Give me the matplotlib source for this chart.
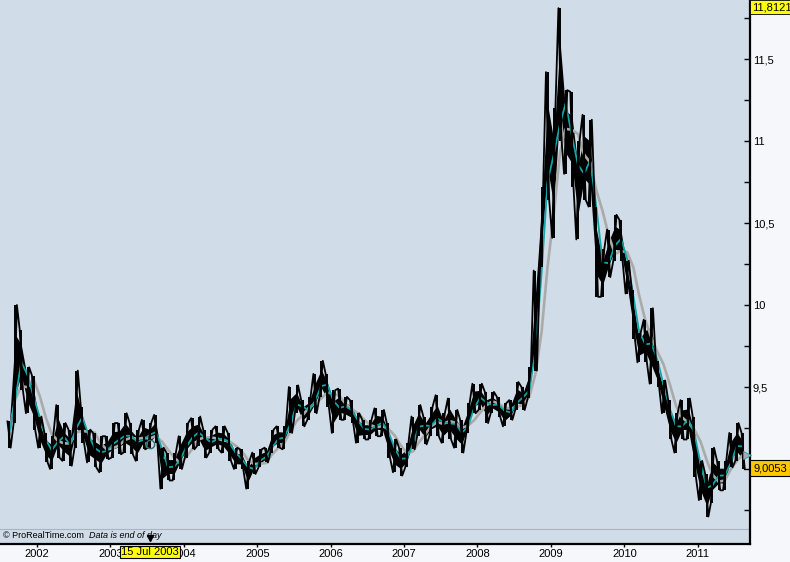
import matplotlib
matplotlib.use('Agg')
import matplotlib.pyplot as plt
import matplotlib.transforms as mtransforms
import pandas as pd

plt.rcParams['font.family'] = ['Liberation Sans', 'DejaVu Sans']

# Datos (máximos y mínimos mensuales, ago 2001 - ago 2011)
meses = pd.date_range('2001-08-01', periods=121, freq='MS') + pd.Timedelta(days=14)

maximos = [9.29, 10.00, 9.85, 9.62, 9.57, 9.32, 9.22, 9.20, 9.39, 9.28,
           9.24, 9.60, 9.38, 9.24, 9.22, 9.20, 9.20, 9.28, 9.28, 9.34,
           9.28, 9.24, 9.30, 9.28, 9.33, 9.13, 9.10, 9.10, 9.20, 9.28,
           9.31, 9.32, 9.24, 9.24, 9.26, 9.26, 9.22, 9.13, 9.12, 9.05,
           9.10, 9.12, 9.13, 9.24, 9.26, 9.26, 9.50, 9.51, 9.42, 9.44,
           9.58, 9.66, 9.58, 9.48, 9.49, 9.44, 9.42, 9.34, 9.30, 9.30,
           9.37, 9.36, 9.28, 9.18, 9.13, 9.16, 9.32, 9.39, 9.32, 9.38,
           9.45, 9.34, 9.43, 9.36, 9.30, 9.40, 9.52, 9.52, 9.47, 9.47,
           9.44, 9.40, 9.42, 9.53, 9.50, 9.62, 10.21, 10.72, 11.42, 11.20,
           11.81, 11.31, 11.30, 11.00, 11.16, 11.13, 10.60, 10.34, 10.46, 10.55,
           10.52, 10.27, 10.09, 9.83, 9.91, 9.98, 9.66, 9.54, 9.42, 9.34,
           9.42, 9.43, 9.32, 9.05, 8.97, 9.13, 9.05, 9.05, 9.22, 9.28,
           9.22]

minimos = [9.13, 9.28, 9.48, 9.34, 9.24, 9.13, 9.04, 9.00, 9.07, 9.05,
           9.02, 9.13, 9.16, 9.04, 9.01, 8.98, 9.06, 9.07, 9.09, 9.10,
           9.09, 9.05, 9.12, 9.13, 9.16, 8.88, 8.93, 8.93, 9.00, 9.07,
           9.12, 9.14, 9.07, 9.10, 9.12, 9.10, 9.05, 9.00, 9.00, 8.88,
           8.97, 9.01, 9.04, 9.10, 9.13, 9.12, 9.22, 9.34, 9.26, 9.30,
           9.34, 9.44, 9.38, 9.22, 9.30, 9.30, 9.28, 9.16, 9.18, 9.18,
           9.20, 9.20, 9.07, 8.98, 8.96, 9.01, 9.12, 9.20, 9.15, 9.20,
           9.20, 9.16, 9.18, 9.13, 9.10, 9.22, 9.34, 9.36, 9.28, 9.34,
           9.32, 9.26, 9.30, 9.36, 9.36, 9.43, 9.60, 10.23, 10.64, 10.41,
           11.00, 10.80, 10.72, 10.40, 10.64, 10.60, 10.05, 10.05, 10.17, 10.27,
           10.27, 10.07, 9.79, 9.65, 9.65, 9.52, 9.50, 9.34, 9.18, 9.10,
           9.18, 9.18, 8.95, 8.81, 8.71, 8.79, 8.87, 8.87, 9.01, 9.05,
           9.00]

ultimo_cierre = 9.0053
maximo_periodo = 11.8121
fecha_cursor = pd.Timestamp('2003-07-15')
valor_cursor = 9.15
anios = list(range(2002, 2012))
niveles = [9.0, 9.5, 10.0, 10.5, 11.0, 11.5]

serie = pd.DataFrame({'max': maximos, 'min': minimos}, index=meses)
rango = serie['max'] - serie['min']
medio = (serie['max'] + serie['min']) / 2
media_corta = medio.rolling(2, min_periods=1).mean()
media_larga = medio.rolling(4, min_periods=1).mean()

fig = plt.figure(figsize=(7.9, 5.62), dpi=100, facecolor='#f5f7fa')
ax = fig.add_axes([0, 18 / 562, 750 / 790, 544 / 562])
ax.set_facecolor('#d0dce7')

# barras: nucleo relleno + trazo en zigzag entre maximo y minimo
ax.fill_between(meses, serie['min'] + 0.25 * rango, serie['max'] - 0.25 * rango,
                color='black', lw=0, zorder=1.8)
ax.plot(meses, media_larga, color='#aaaaaa', lw=1.9, zorder=2.1)
ax.plot(meses, media_corta, color='#12a4a6', lw=1.3, zorder=2.2)
zx, zy = [], []
for k, (f, h, l) in enumerate(zip(meses, maximos, minimos)):
    pares = [(f - pd.Timedelta(days=8), h), (f + pd.Timedelta(days=8), l)]
    if k % 2:
        pares = [(f - pd.Timedelta(days=8), l), (f + pd.Timedelta(days=8), h)]
    for px, py in pares:
        zx.append(px)
        zy.append(py)
ax.plot(zx, zy, color='black', lw=1.3, zorder=2.4)
ax.vlines(meses, serie['min'], serie['max'], color='black', lw=1.4, zorder=2.4)

ax.set_xlim(pd.Timestamp('2001-07-01'), pd.Timestamp('2011-09-18'))
ax.set_ylim(8.5427, 11.8598)

for s in ['left', 'top']:
    ax.spines[s].set_visible(False)
for s in ['right', 'bottom']:
    ax.spines[s].set_linewidth(1.6)

ax.yaxis.tick_right()
ax.set_yticks(niveles)
ax.set_yticklabels(['' if v == 9.0 else ('%g' % v).replace('.', ',') for v in niveles],
                   fontsize=8)
ax.set_yticks([8.75, 9.25, 9.75, 10.25, 10.75, 11.25, 11.75], minor=True)
ax.tick_params(axis='y', which='both', direction='in', length=4, width=1, pad=2)

ax.set_xticks([pd.Timestamp('%d-01-01' % a) for a in anios])
ax.set_xticklabels([str(a) for a in anios], fontsize=8)
ax.tick_params(axis='x', direction='out', length=2, width=1, pad=1.5)

# linea separadora y texto de copyright
ax.plot([0, 1], [15 / 544, 15 / 544], transform=ax.transAxes, color='#a9b5c1', lw=0.8)
ax.text(0.004, 8 / 544, '© ProRealTime.com', transform=ax.transAxes, fontsize=6.5,
        va='center', ha='left')
ax.text(89 / 750, 8 / 544, 'Data is end of day', transform=ax.transAxes, fontsize=6.5,
        va='center', ha='left', style='italic')

# cursor
ax.plot([fecha_cursor], [valor_cursor], marker='o', ms=6, mfc='none', mec='#2c6f72',
        mew=1, zorder=5)
mezcla = mtransforms.blended_transform_factory(ax.transData, ax.transAxes)
ax.plot([fecha_cursor], [6 / 544], marker='v', ms=5, color='black', transform=mezcla,
        clip_on=False, zorder=6)
ax.text(fecha_cursor, -8 / 544, '15 Jul 2003', transform=mezcla, fontsize=8,
        ha='center', va='center', zorder=7,
        bbox=dict(boxstyle='square,pad=0.1', fc='#ffff00', ec='black', lw=0.8))

# etiquetas del eje derecho
mezcla_y = mtransforms.blended_transform_factory(ax.transAxes, ax.transData)
ax.plot([0.996], [media_larga.iloc[-1]], marker='>', ms=6, color='#aaaaaa', mec='#12a4a6',
        mew=0.6, transform=mezcla_y, clip_on=False, zorder=6)
ax.text(1.004, ultimo_cierre, ('%.4f' % ultimo_cierre).replace('.', ','), transform=mezcla_y,
        fontsize=8, ha='left', va='center',
        bbox=dict(boxstyle='square,pad=0.25', fc='#ffc800', ec='black', lw=0.8))
fig.text(752.5 / 790, 1 - 7 / 562, ('%.4f' % maximo_periodo).replace('.', ','), fontsize=8,
         ha='left', va='center',
         bbox=dict(boxstyle='square,pad=0.2', fc='#ffff00', ec='black', lw=0.6))

fig.savefig('out.png', dpi=100, facecolor=fig.get_facecolor())
